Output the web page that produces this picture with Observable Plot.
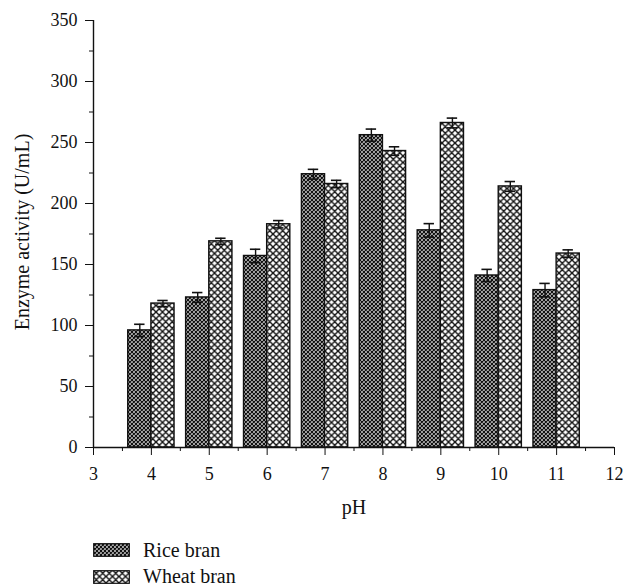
<!DOCTYPE html>
<html>
<head>
<meta charset="utf-8">
<script src="https://cdn.jsdelivr.net/npm/d3@7"></script>
<script src="https://cdn.jsdelivr.net/npm/@observablehq/plot@0.6"></script>
<style>
  html, body { margin: 0; padding: 0; background: #fff; }
  #wrap { position: relative; width: 627px; height: 586px; font-family: "Liberation Serif", "DejaVu Serif", serif; }
  #legend { position: absolute; left: 93px; top: 537px; font-size: 20px; color: #111; }
  .row { display: flex; align-items: center; height: 26.5px; }
  .row svg { margin-right: 13px; }
</style>
</head>
<body>
<div id="wrap">
  <div id="chart"></div>
  <div id="legend"></div>
</div>
<script>
const phValues = [4, 5, 6, 7, 8, 9, 10, 11];
const riceBran = [96, 123, 157, 224, 256, 178, 141, 129];
const riceErr = [5, 4, 5.5, 4, 5, 5.5, 5, 5.5];
const wheatBran = [118, 169, 183, 216, 243, 266, 214, 159];
const wheatErr = [2.5, 2.5, 3, 3, 3.5, 4, 4, 3];
const seriesNames = ["Rice bran", "Wheat bran"];
const xTicks = [3, 4, 5, 6, 7, 8, 9, 10, 11, 12];
const yTicks = [0, 50, 100, 150, 200, 250, 300, 350];

const barW = 0.4;
const rows = [];
phValues.forEach((p, i) => {
  rows.push({series: seriesNames[0], ph: p, x1: p - barW, x2: p, value: riceBran[i], err: riceErr[i]});
  rows.push({series: seriesNames[1], ph: p, x1: p, x2: p + barW, value: wheatBran[i], err: wheatErr[i]});
});
const patternOf = {"Rice bran": "url(#patRice)", "Wheat bran": "url(#patWheat)"};
const capHalf = 0.09;

const plot = Plot.plot({
  width: 627,
  height: 530,
  marginLeft: 93,
  marginRight: 13,
  marginTop: 20,
  marginBottom: 83,
  style: {fontFamily: "'Liberation Serif', 'DejaVu Serif', serif", fontSize: "18px", color: "#111", background: "#fff"},
  x: {domain: [3, 12]},
  y: {domain: [0, 350]},
  marks: [
    Plot.axisY({ticks: yTicks, tickSize: 8, tickPadding: 8, fontSize: 18, label: null}),
    Plot.axisY({ticks: d3.range(25, 350, 50), tickSize: 4, text: null, label: null}),
    Plot.axisX({ticks: xTicks, tickSize: 8, tickPadding: 12, fontSize: 18, label: null}),
    Plot.axisX({ticks: d3.range(3.5, 12, 1), tickSize: 4, text: null, label: null}),
    Plot.rectY(rows, {x1: "x1", x2: "x2", y: "value", fill: d => patternOf[d.series], stroke: "#111", strokeWidth: 1.4}),
    Plot.ruleX(rows, {x: d => (d.x1 + d.x2) / 2, y1: d => d.value - d.err, y2: d => d.value + d.err, stroke: "#111", strokeWidth: 1.4}),
    Plot.ruleY(rows, {x1: d => (d.x1 + d.x2) / 2 - capHalf, x2: d => (d.x1 + d.x2) / 2 + capHalf, y: d => d.value + d.err, stroke: "#111", strokeWidth: 1.6}),
    Plot.ruleY(rows, {x1: d => (d.x1 + d.x2) / 2 - capHalf, x2: d => (d.x1 + d.x2) / 2 + capHalf, y: d => d.value - d.err, stroke: "#111", strokeWidth: 1.6}),
    Plot.ruleY([0], {stroke: "#111", strokeWidth: 1.4}),
    Plot.ruleX([3], {stroke: "#111", strokeWidth: 1.4}),
    Plot.text(["Enzyme activity (U/mL)"], {frameAnchor: "left", textAnchor: "middle", lineAnchor: "middle", dx: -71, dy: -2, rotate: -90, fontSize: 20, fill: "#111"}),
    Plot.text(["pH"], {frameAnchor: "bottom", lineAnchor: "middle", dy: 60, fontSize: 20, fill: "#111"})
  ]
});

const defs = `
<defs>
  <pattern id="patRice" patternUnits="userSpaceOnUse" width="4" height="4">
    <rect width="4" height="4" fill="#fff"/>
    <path d="M0,0L4,4M4,0L0,4M-1,3L1,5M3,-1L5,1M-1,1L1,-1M3,5L5,3" stroke="#111" stroke-width="1.25"/>
  </pattern>
  <pattern id="patWheat" patternUnits="userSpaceOnUse" width="6.5" height="6.5">
    <rect width="6.5" height="6.5" fill="#fff"/>
    <path d="M0,0L6.5,6.5M6.5,0L0,6.5M-1,5.5L1,7.5M5.5,-1L7.5,1M-1,1L1,-1M5.5,7.5L7.5,5.5" stroke="#111" stroke-width="1.4"/>
  </pattern>
</defs>`;
plot.insertAdjacentHTML("afterbegin", defs);
document.getElementById("chart").appendChild(plot);

const legend = document.getElementById("legend");
seriesNames.forEach(name => {
  const row = document.createElement("div");
  row.className = "row";
  row.innerHTML = `<svg width="37" height="14"><rect x="0.7" y="0.7" width="35.6" height="12.6" fill="${patternOf[name]}" stroke="#111" stroke-width="1.2"/></svg><span>${name}</span>`;
  legend.appendChild(row);
});
</script>
</body>
</html>
